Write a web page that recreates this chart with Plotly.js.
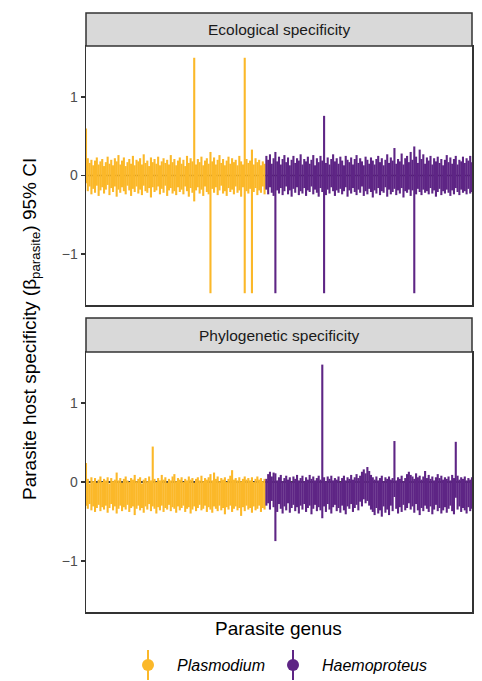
<!DOCTYPE html>
<html>
<head>
<meta charset="utf-8">
<script src="https://cdn.plot.ly/plotly-3.0.1.min.js"></script>
<style>html,body{margin:0;padding:0;background:#fff;}#chart{width:482px;height:681px;}</style>
</head>
<body>
<div id="chart"></div>
<script>
// ---------- data ----------
var genera = ["Plasmodium", "Haemoproteus"];
var panels = ["Ecological specificity", "Phylogenetic specificity"];
var yTicks = [-1, 0, 1];
var xTitle = "Parasite genus";
var yTitle = "Parasite host specificity (β<sub>parasite</sub>) 95% CI";

// Ecological specificity, 95% CI bounds
var ecoPlasUp = [0.60,0.22,0.16,0.20,0.13,0.19,0.23,0.14,0.18,0.21,
  0.12,0.17,0.24,0.15,0.20,0.13,0.22,0.18,0.26,0.14,
  0.19,0.23,0.12,0.17,0.21,0.15,0.25,0.13,0.20,0.18,
  0.22,0.14,0.27,0.16,0.19,0.12,0.23,0.17,0.21,0.15,
  0.24,0.13,0.18,0.22,0.16,0.20,0.14,0.26,0.17,0.21,
  0.13,0.19,0.23,0.15,0.20,0.12,0.25,0.16,0.22,0.18,
  1.50,0.14,0.21,0.17,0.24,0.13,0.19,0.22,0.15,0.30,
  0.18,0.23,0.14,0.20,0.26,0.16,0.21,0.13,0.19,0.24,
  0.15,0.22,0.17,0.20,0.13,0.25,0.18,0.14,1.50,0.21,
  0.16,0.19,0.33,0.14,0.22,0.17,0.20,0.13,0.18,0.15];
var ecoPlasLo = [-0.10,-0.20,-0.14,-0.24,-0.17,-0.22,-0.13,-0.26,-0.19,-0.15,
  -0.23,-0.18,-0.12,-0.25,-0.16,-0.21,-0.14,-0.27,-0.18,-0.22,
  -0.15,-0.20,-0.24,-0.13,-0.19,-0.26,-0.17,-0.21,-0.14,-0.23,
  -0.18,-0.25,-0.13,-0.20,-0.22,-0.16,-0.28,-0.15,-0.21,-0.19,
  -0.14,-0.24,-0.17,-0.22,-0.13,-0.26,-0.19,-0.16,-0.23,-0.20,
  -0.25,-0.15,-0.21,-0.18,-0.24,-0.14,-0.20,-0.27,-0.16,-0.22,
  -0.33,-0.19,-0.15,-0.23,-0.18,-0.26,-0.14,-0.21,-0.24,-1.50,
  -0.17,-0.22,-0.15,-0.25,-0.19,-0.13,-0.23,-0.20,-0.26,-0.16,
  -0.21,-0.18,-0.24,-0.14,-0.22,-0.19,-0.27,-0.15,-1.50,-0.20,
  -0.23,-0.17,-1.50,-0.21,-0.16,-0.25,-0.19,-0.22,-0.14,-0.24];
var ecoHaemUp = [0.25,0.20,0.27,0.15,0.22,0.30,0.18,0.24,0.14,0.21,
  0.26,0.17,0.23,0.13,0.20,0.25,0.16,0.22,0.19,0.27,
  0.14,0.21,0.18,0.24,0.15,0.20,0.26,0.13,0.22,0.17,
  0.25,0.19,0.76,0.16,0.23,0.14,0.21,0.27,0.18,0.22,
  0.15,0.24,0.19,0.13,0.25,0.20,0.17,0.23,0.14,0.21,
  0.26,0.16,0.22,0.18,0.13,0.24,0.20,0.15,0.23,0.19,
  0.14,0.21,0.25,0.17,0.22,0.13,0.20,0.27,0.16,0.23,
  0.19,0.35,0.15,0.21,0.18,0.28,0.14,0.22,0.25,0.17,
  0.30,0.20,0.37,0.24,0.16,0.33,0.21,0.27,0.15,0.23,
  0.19,0.25,0.14,0.22,0.18,0.24,0.16,0.21,0.13,0.20,
  0.26,0.17,0.23,0.15,0.21,0.25,0.14,0.20,0.18,0.24,
  0.16,0.22,0.19,0.25,0.17];
var ecoHaemLo = [-0.18,-0.24,-0.15,-0.22,-0.26,-1.50,-0.19,-0.23,-0.16,-0.25,
  -0.20,-0.14,-0.24,-0.19,-0.27,-0.17,-0.22,-0.15,-0.25,-0.20,
  -0.23,-0.16,-0.26,-0.19,-0.21,-0.14,-0.24,-0.18,-0.22,-0.27,
  -0.16,-0.21,-1.50,-0.25,-0.18,-0.23,-0.15,-0.20,-0.26,-0.19,
  -0.22,-0.17,-0.24,-0.20,-0.15,-0.27,-0.19,-0.23,-0.16,-0.21,
  -0.25,-0.18,-0.22,-0.14,-0.26,-0.20,-0.24,-0.17,-0.21,-0.28,
  -0.19,-0.23,-0.16,-0.25,-0.20,-0.22,-0.15,-0.27,-0.18,-0.24,
  -0.21,-0.17,-0.25,-0.19,-0.23,-0.16,-0.28,-0.20,-0.22,-0.18,
  -0.26,-0.19,-1.50,-0.24,-0.17,-0.21,-0.25,-0.18,-0.22,-0.20,
  -0.24,-0.16,-0.23,-0.19,-0.27,-0.21,-0.17,-0.25,-0.20,-0.23,
  -0.18,-0.22,-0.26,-0.19,-0.24,-0.16,-0.21,-0.25,-0.18,-0.22,
  -0.20,-0.24,-0.17,-0.23,-0.21];

// Phylogenetic specificity, 95% CI bounds
var phyPlasUp = [0.24,0.04,-0.02,0.06,0.01,0.05,-0.01,0.03,0.07,0.00,
  0.04,0.02,0.06,-0.02,0.05,0.01,0.03,0.12,0.02,0.05,
  -0.01,0.04,0.07,0.02,0.00,0.05,0.03,0.09,0.01,0.04,
  0.06,-0.02,0.03,0.05,0.01,0.07,0.02,0.45,0.04,0.00,
  0.05,0.02,0.09,0.03,0.06,-0.01,0.04,0.02,0.07,0.10,
  0.01,0.05,0.03,0.06,0.00,0.04,0.02,0.07,0.03,0.05,
  -0.01,0.04,0.06,0.02,0.08,0.01,0.05,0.03,0.06,0.10,
  0.02,0.12,0.04,0.07,0.01,0.05,0.03,0.06,0.00,0.04,
  0.08,0.15,0.03,0.05,0.02,0.06,0.01,0.04,0.07,0.03,
  0.05,0.02,0.06,0.00,0.04,0.07,0.03,0.05,0.01,0.04];
var phyPlasLo = [-0.30,-0.34,-0.28,-0.36,-0.31,-0.38,-0.33,-0.29,-0.37,-0.32,
  -0.35,-0.30,-0.39,-0.33,-0.28,-0.36,-0.31,-0.40,-0.34,-0.30,
  -0.37,-0.32,-0.35,-0.29,-0.38,-0.33,-0.31,-0.42,-0.34,-0.30,
  -0.36,-0.33,-0.39,-0.31,-0.35,-0.28,-0.37,-0.31,-0.34,-0.40,
  -0.32,-0.36,-0.30,-0.38,-0.33,-0.35,-0.29,-0.37,-0.32,-0.34,
  -0.39,-0.31,-0.36,-0.33,-0.30,-0.38,-0.34,-0.32,-0.40,-0.35,
  -0.31,-0.37,-0.33,-0.29,-0.36,-0.34,-0.30,-0.38,-0.32,-0.35,
  -0.39,-0.31,-0.34,-0.37,-0.30,-0.36,-0.33,-0.41,-0.32,-0.35,
  -0.30,-0.38,-0.34,-0.31,-0.36,-0.33,-0.43,-0.32,-0.37,-0.30,
  -0.35,-0.33,-0.39,-0.31,-0.36,-0.34,-0.30,-0.38,-0.33,-0.35];
var phyHaemUp = [0.04,0.10,0.13,0.07,0.12,0.11,0.02,0.06,0.09,0.01,
  0.05,0.08,0.03,0.06,0.00,0.07,0.04,0.09,0.02,0.05,
  0.08,0.01,0.06,0.03,0.09,0.04,0.07,0.02,0.05,0.08,
  0.03,1.49,0.06,0.01,0.07,0.04,0.08,0.02,0.05,0.03,
  0.07,0.00,0.05,0.08,0.02,0.06,0.04,0.09,0.03,0.06,
  0.10,0.05,0.08,0.13,0.16,0.11,0.19,0.14,0.09,0.06,
  0.03,0.07,0.02,0.05,0.08,0.01,0.06,0.04,0.07,0.03,
  0.05,0.52,0.02,0.06,0.04,0.08,0.01,0.05,0.10,0.13,
  0.09,0.07,0.04,0.11,0.06,0.08,0.03,0.07,0.14,0.05,
  0.09,0.04,0.07,0.02,0.06,0.10,0.05,0.08,0.03,0.06,
  0.04,0.07,0.02,0.09,0.05,0.51,0.08,0.03,0.06,0.04,
  0.07,0.02,0.05,0.03,0.06];
var phyHaemLo = [-0.30,-0.27,-0.35,-0.24,-0.32,-0.75,-0.38,-0.28,-0.34,-0.40,
  -0.31,-0.36,-0.27,-0.39,-0.33,-0.29,-0.37,-0.32,-0.40,-0.30,
  -0.35,-0.28,-0.38,-0.33,-0.30,-0.41,-0.34,-0.29,-0.37,-0.32,
  -0.36,-0.46,-0.31,-0.38,-0.28,-0.35,-0.40,-0.32,-0.29,-0.37,
  -0.33,-0.39,-0.30,-0.36,-0.41,-0.31,-0.34,-0.28,-0.38,-0.33,
  -0.29,-0.36,-0.25,-0.31,-0.22,-0.27,-0.24,-0.30,-0.35,-0.38,
  -0.42,-0.33,-0.40,-0.36,-0.44,-0.31,-0.39,-0.35,-0.42,-0.30,
  -0.37,-0.19,-0.34,-0.40,-0.32,-0.38,-0.29,-0.36,-0.33,-0.27,
  -0.35,-0.31,-0.39,-0.28,-0.36,-0.42,-0.33,-0.37,-0.30,-0.34,
  -0.38,-0.31,-0.41,-0.35,-0.29,-0.37,-0.33,-0.40,-0.36,-0.32,
  -0.39,-0.34,-0.30,-0.37,-0.41,-0.20,-0.35,-0.31,-0.38,-0.33,
  -0.36,-0.40,-0.32,-0.37,-0.34];

// ---------- styling ----------
var COLORS = {Plasmodium: "#FBB829", Haemoproteus: "#5E2585"};
var W = 482, H = 681;
function px(x){ return x / W; }
function py(y){ return 1 - y / H; }
var plotL = 86, plotR = 472;
var topPanel = [46, 305], botPanel = [352, 612];
var topStrip = [13, 46], botStrip = [318, 352];

var nPlas = ecoPlasUp.length, nHaem = ecoHaemUp.length;
function seq(start, n){ var a = []; for (var i = 0; i < n; i++) a.push(start + i); return a; }
var xPlas = seq(1, nPlas), xHaem = seq(nPlas + 1, nHaem);

function ciTrace(xs, lo, up, genus, xa, ya){
  var mid = [], plus = [], minus = [];
  for (var i = 0; i < lo.length; i++){
    var m = (lo[i] + up[i]) / 2;
    mid.push(m); plus.push(up[i] - m); minus.push(m - lo[i]);
  }
  return {
    type: "scatter", mode: "markers", x: xs, y: mid, xaxis: xa, yaxis: ya,
    name: genus, showlegend: false, hoverinfo: "skip",
    marker: {size: 2, color: COLORS[genus], opacity: 0},
    error_y: {type: "data", symmetric: false, array: plus, arrayminus: minus,
              color: COLORS[genus], thickness: 2.1, width: 0}
  };
}

var data = [
  ciTrace(xPlas, ecoPlasLo, ecoPlasUp, "Plasmodium", "x", "y"),
  ciTrace(xHaem, ecoHaemLo, ecoHaemUp, "Haemoproteus", "x", "y"),
  ciTrace(xPlas, phyPlasLo, phyPlasUp, "Plasmodium", "x2", "y2"),
  ciTrace(xHaem, phyHaemLo, phyHaemUp, "Haemoproteus", "x2", "y2")
];

var nTotal = nPlas + nHaem;
function xAxis(anchor){
  return {domain: [px(plotL), px(plotR)], range: [1, nTotal], anchor: anchor,
    showgrid: false, zeroline: false, showticklabels: false, ticks: "",
    showline: true, mirror: true, linecolor: "#333333", linewidth: 1.5, fixedrange: true};
}
function yAxis(dom, anchor){
  return {domain: [py(dom[1]), py(dom[0])], range: [-1.65, 1.65], anchor: anchor,
    tickmode: "array", tickvals: yTicks, ticks: "outside", ticklen: 4, tickwidth: 1.5,
    tickcolor: "#333333", tickfont: {family: "Liberation Sans, Arial, sans-serif", size: 14, color: "#4D4D4D"},
    showgrid: false, zeroline: false, showline: true, mirror: true,
    linecolor: "#333333", linewidth: 1.5, fixedrange: true};
}

var shapes = [
  // zero reference lines
  {type: "line", xref: "x domain", yref: "y", x0: 0, x1: 1, y0: 0, y1: 0, layer: "below",
   line: {color: "#000000", width: 1.6}},
  {type: "line", xref: "x2 domain", yref: "y2", x0: 0, x1: 1, y0: 0, y1: 0, layer: "below",
   line: {color: "#000000", width: 1.6}},
  // facet strips
  {type: "rect", xref: "paper", yref: "paper", x0: px(plotL), x1: px(plotR), y0: py(topStrip[1]), y1: py(topStrip[0]),
   fillcolor: "#D9D9D9", line: {color: "#333333", width: 1.5}},
  {type: "rect", xref: "paper", yref: "paper", x0: px(plotL), x1: px(plotR), y0: py(botStrip[1]), y1: py(botStrip[0]),
   fillcolor: "#D9D9D9", line: {color: "#333333", width: 1.5}},
  // legend keys
  {type: "line", xref: "paper", yref: "paper", x0: px(148), x1: px(148), y0: py(680), y1: py(650),
   line: {color: COLORS.Plasmodium, width: 2}},
  {type: "circle", xref: "paper", yref: "paper", x0: px(142), x1: px(154), y0: py(671), y1: py(659),
   fillcolor: COLORS.Plasmodium, line: {width: 0}},
  {type: "line", xref: "paper", yref: "paper", x0: px(293), x1: px(293), y0: py(680), y1: py(650),
   line: {color: COLORS.Haemoproteus, width: 2}},
  {type: "circle", xref: "paper", yref: "paper", x0: px(287), x1: px(299), y0: py(671), y1: py(659),
   fillcolor: COLORS.Haemoproteus, line: {width: 0}}
];

var F = "Liberation Sans, Arial, sans-serif";
var annotations = [
  {text: panels[0], xref: "paper", yref: "paper", x: px((plotL + plotR) / 2), y: py((topStrip[0] + topStrip[1]) / 2),
   showarrow: false, xanchor: "center", yanchor: "middle", font: {family: F, size: 15.5, color: "#1A1A1A"}},
  {text: panels[1], xref: "paper", yref: "paper", x: px((plotL + plotR) / 2), y: py((botStrip[0] + botStrip[1]) / 2),
   showarrow: false, xanchor: "center", yanchor: "middle", font: {family: F, size: 15.5, color: "#1A1A1A"}},
  {text: xTitle, xref: "paper", yref: "paper", x: px(278), y: py(628),
   showarrow: false, xanchor: "center", yanchor: "middle", font: {family: F, size: 19, color: "#000000"}},
  {text: yTitle, xref: "paper", yref: "paper", x: px(31), y: py(329), textangle: -90,
   showarrow: false, xanchor: "center", yanchor: "middle", font: {family: F, size: 19, color: "#000000"}},
  {text: "<i>" + genera[0] + "</i>", xref: "paper", yref: "paper", x: px(175), y: py(665),
   showarrow: false, xanchor: "left", yanchor: "middle", font: {family: F, size: 16, color: "#000000"}},
  {text: "<i>" + genera[1] + "</i>", xref: "paper", yref: "paper", x: px(320), y: py(665),
   showarrow: false, xanchor: "left", yanchor: "middle", font: {family: F, size: 16, color: "#000000"}}
];

var layout = {
  width: W, height: H, margin: {l: 0, r: 0, t: 0, b: 0},
  paper_bgcolor: "#FFFFFF", plot_bgcolor: "#FFFFFF",
  showlegend: false, font: {family: F},
  xaxis: xAxis("y"), yaxis: yAxis(topPanel, "x"),
  xaxis2: xAxis("y2"), yaxis2: yAxis(botPanel, "x2"),
  shapes: shapes, annotations: annotations
};

Plotly.newPlot("chart", data, layout, {staticPlot: true, displayModeBar: false});
</script>
</body>
</html>
